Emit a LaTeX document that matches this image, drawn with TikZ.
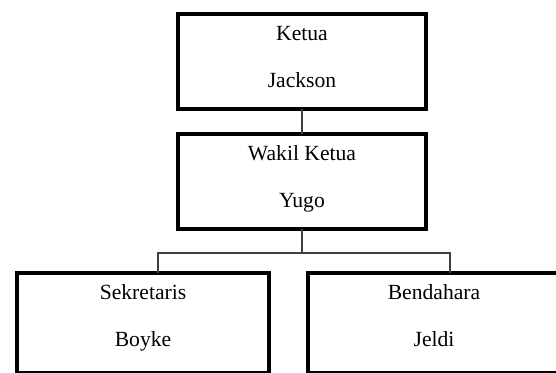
\documentclass[tikz,border=0pt]{standalone}
\usepackage{fontspec}
\setmainfont{Liberation Serif}
\usetikzlibrary{positioning}
\newcommand{\jabatan}[2]{\begin{tabular}[t]{@{}c@{}}#1\\[12.2pt]#2\end{tabular}}

\begin{document}
\begin{tikzpicture}[
    font=\fontsize{12.3}{14.8}\selectfont,
    box/.style={draw, line width=2.3pt, minimum width=4.96cm, inner sep=0pt, outer sep=0pt, text height=0.52cm, text depth=1.38cm},
    wide/.style={box, minimum width=5.04cm, text depth=1.48cm},
    link/.style={draw=black!75, line width=0.85pt}
]
\useasboundingbox (0,0) rectangle (11.12,-7.44);
% Ketua on top, wakil right below
\node[box, anchor=north] (ketua) at (6.04,-0.28) {\jabatan{Ketua}{Jackson}};
\node[box, below=0.5cm of ketua] (wakil) {\jabatan{Wakil Ketua}{Yugo}};
% Sekretaris and Bendahara side by side
\node[wide, below=0.88cm of wakil, xshift=-3.18cm] (sek) {\jabatan{Sekretaris}{Boyke}};
\node[wide, right=0.78cm of sek] (bend) {\jabatan{Bendahara}{Jeldi}};

% Lines
\draw[link] (ketua) -- (wakil);
\draw[link] (wakil.south) -- ++(0,-0.48) coordinate (split);
\draw[link] ([xshift=0.3cm]sek.north) |- (split) -| ([xshift=0.32cm]bend.north);
\end{tikzpicture}
\end{document}
